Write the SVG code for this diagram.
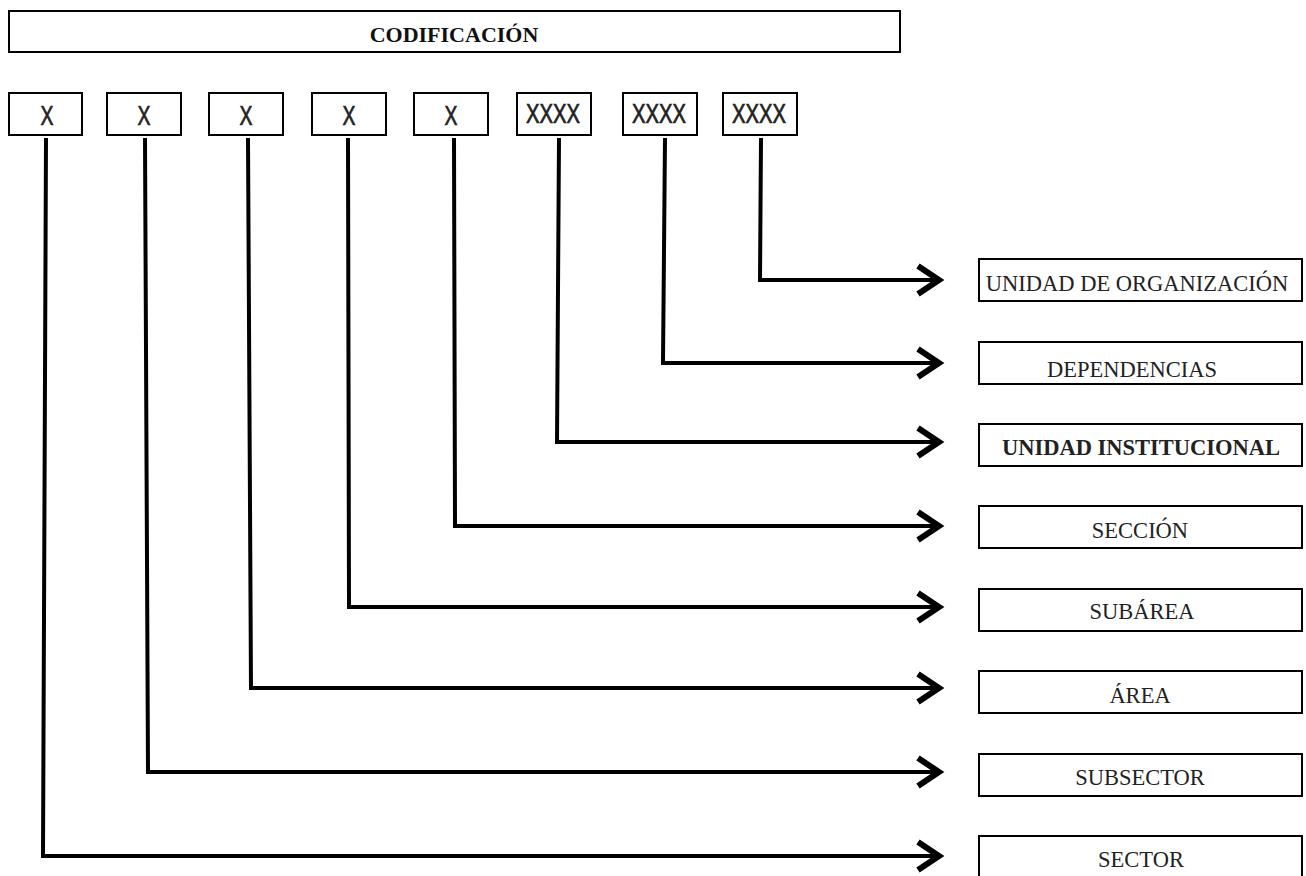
<svg xmlns="http://www.w3.org/2000/svg" width="1306" height="876" viewBox="0 0 1306 876">
<defs>
<style>
.box{fill:#fff;stroke:#000;stroke-width:2}
.code{font-family:"Liberation Sans",Arial,sans-serif;font-size:27px;fill:#222;stroke:#222;stroke-width:0.7;text-anchor:middle}
.lbl{font-family:"Liberation Serif","Times New Roman",serif;font-size:22.5px;fill:#222;text-anchor:middle}
.title{font-family:"Liberation Serif","Times New Roman",serif;font-size:22px;font-weight:bold;fill:#111;text-anchor:middle}
.conn{fill:none;stroke:#000;stroke-width:4;stroke-linejoin:miter}
</style>
<marker id="arr" markerUnits="userSpaceOnUse" markerWidth="34" markerHeight="40" viewBox="0 0 34 40" refX="29" refY="20" orient="auto">
<path d="M7,6 L28,20 L7,34" fill="none" stroke="#000" stroke-width="6" stroke-linejoin="miter"/>
</marker>
</defs>
<rect width="1306" height="876" fill="#fff"/>
<g id="codificacion">
<rect class="box" x="9" y="11" width="891" height="41"/>
<text class="title" x="454" y="42">CODIFICACIÓN</text>
</g>
<g id="code1"><rect class="box" x="9" y="93" width="73" height="42"/><text class="code" transform="translate(47,125) scale(0.72,1)">X</text></g>
<g id="code2"><rect class="box" x="107" y="93" width="74" height="42"/><text class="code" transform="translate(144,125) scale(0.72,1)">X</text></g>
<g id="code3"><rect class="box" x="209" y="93" width="74" height="42"/><text class="code" transform="translate(246,125) scale(0.72,1)">X</text></g>
<g id="code4"><rect class="box" x="312" y="93" width="74" height="42"/><text class="code" transform="translate(349,125) scale(0.72,1)">X</text></g>
<g id="code5"><rect class="box" x="414" y="93" width="74" height="42"/><text class="code" transform="translate(451,125) scale(0.72,1)">X</text></g>
<g id="code6"><rect class="box" x="517" y="93" width="74" height="42"/><text class="code" transform="translate(553,123) scale(0.75,1)">XXXX</text></g>
<g id="code7"><rect class="box" x="623" y="93" width="74" height="42"/><text class="code" transform="translate(659,123) scale(0.75,1)">XXXX</text></g>
<g id="code8"><rect class="box" x="723" y="93" width="74" height="42"/><text class="code" transform="translate(759,123) scale(0.75,1)">XXXX</text></g>
<g id="connectors">
<path class="conn" d="M761,138 L760,280 L940,280" marker-end="url(#arr)"/>
<path class="conn" d="M665,138 L663,363 L940,363" marker-end="url(#arr)"/>
<path class="conn" d="M559,138 L557,442 L940,442" marker-end="url(#arr)"/>
<path class="conn" d="M454,138 L455,526 L940,526" marker-end="url(#arr)"/>
<path class="conn" d="M348,138 L349,607 L940,607" marker-end="url(#arr)"/>
<path class="conn" d="M248,138 L251,688 L940,688" marker-end="url(#arr)"/>
<path class="conn" d="M145,138 L148,772 L940,772" marker-end="url(#arr)"/>
<path class="conn" d="M46,138 L43,856 L940,856" marker-end="url(#arr)"/>
</g>
<g id="unidad-organizacion"><rect class="box" x="979" y="259" width="323" height="42"/><text class="lbl" x="1137" y="291">UNIDAD DE ORGANIZACIÓN</text></g>
<g id="dependencias"><rect class="box" x="979" y="342" width="323" height="42"/><text class="lbl" x="1132" y="377">DEPENDENCIAS</text></g>
<g id="unidad-institucional"><rect class="box" x="979" y="424" width="323" height="42"/><text class="lbl" x="1141" y="455" font-weight="bold" font-size="21">UNIDAD INSTITUCIONAL</text></g>
<g id="seccion"><rect class="box" x="979" y="506" width="323" height="42"/><text class="lbl" x="1140" y="538">SECCIÓN</text></g>
<g id="subarea"><rect class="box" x="979" y="589" width="323" height="42"/><text class="lbl" x="1142" y="619">SUBÁREA</text></g>
<g id="area"><rect class="box" x="979" y="671" width="323" height="42"/><text class="lbl" x="1140" y="703">ÁREA</text></g>
<g id="subsector"><rect class="box" x="979" y="754" width="323" height="42"/><text class="lbl" x="1140" y="785">SUBSECTOR</text></g>
<g id="sector"><rect class="box" x="979" y="836" width="323" height="42"/><text class="lbl" x="1141" y="867">SECTOR</text></g>
</svg>
